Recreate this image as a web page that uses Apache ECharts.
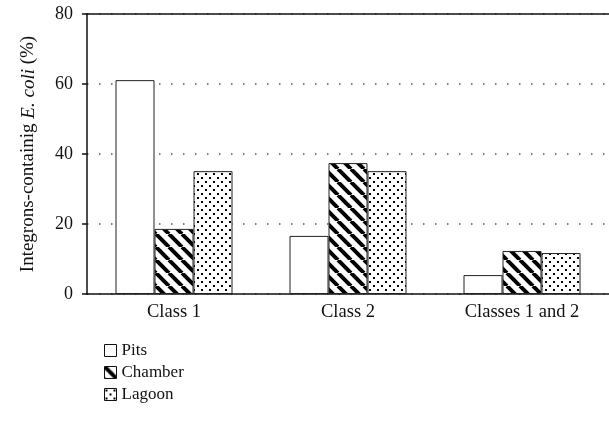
<!DOCTYPE html>
<html>
<head>
<meta charset="utf-8">
<script src="https://cdn.jsdelivr.net/npm/echarts@6/dist/echarts.min.js"></script>
<style>html,body{margin:0;padding:0;background:#fff;}#c{width:609px;height:434px;}</style>
</head>
<body>
<div id="c"></div>
<script>
const categories = ['Class 1', 'Class 2', 'Classes 1 and 2'];
const seriesNames = ['Pits', 'Chamber', 'Lagoon'];
const pits = [61.1, 16.6, 5.4];
const chamber = [18.6, 37.4, 12.3];
const lagoon = [35.1, 35.1, 11.7];
const yTicks = [0, 20, 40, 60, 80];

function stripePattern() {
  const s = 13;
  const c = document.createElement('canvas');
  c.width = s; c.height = s;
  const g = c.getContext('2d');
  g.fillStyle = '#fff'; g.fillRect(0, 0, s, s);
  g.strokeStyle = '#000'; g.lineWidth = 4;
  for (const o of [-s, 0, s]) {
    g.beginPath(); g.moveTo(o, 0); g.lineTo(o + s, s); g.stroke();
  }
  return c;
}
function dotPattern() {
  const s = 8;
  const c = document.createElement('canvas');
  c.width = s; c.height = s;
  const g = c.getContext('2d');
  g.fillStyle = '#fff'; g.fillRect(0, 0, s, s);
  g.fillStyle = '#000';
  g.fillRect(1, 1, 2, 2);
  g.fillRect(5, 5, 2, 2);
  return c;
}

const font = 'Liberation Serif';
const chart = echarts.init(document.getElementById('c'), null, {renderer: 'canvas'});
const barStyle = (color) => ({color: color, borderColor: '#222', borderWidth: 1});
chart.setOption({
  animation: false,
  backgroundColor: '#fff',
  textStyle: {fontFamily: font, color: '#111'},
  grid: {left: 87, right: 0, top: 14, bottom: 140, containLabel: false},
  legend: {
    orient: 'vertical', left: 99, top: 337,
    itemWidth: 12, itemHeight: 12, itemGap: 5,
    icon: 'rect',
    textStyle: {fontFamily: font, fontSize: 17, color: '#111'},
    itemStyle: {borderColor: '#111', borderWidth: 1},
    data: seriesNames
  },
  xAxis: [{
    type: 'category', data: categories,
    axisLine: {lineStyle: {color: '#111', width: 1.5}},
    axisTick: {show: false},
    axisLabel: {fontFamily: font, fontSize: 18.5, color: '#111', margin: 9}
  }, {
    type: 'category', data: categories, position: 'top',
    axisLine: {show: true, lineStyle: {color: '#111', width: 1.5}},
    axisTick: {show: false}, axisLabel: {show: false}
  }],
  yAxis: {
    type: 'value', min: yTicks[0], max: yTicks[yTicks.length - 1], interval: 20,
    axisLine: {show: true, lineStyle: {color: '#111', width: 1.5}},
    axisTick: {show: true, inside: false, length: 5, lineStyle: {color: '#111', width: 1.5}},
    axisLabel: {fontFamily: font, fontSize: 18, color: '#111', margin: 14},
    splitLine: {lineStyle: {color: '#555', type: [1.5, 10.5], width: 1.5}},
    name: '{a|Integrons-containig }{b|E. coli}{a| (%)}',
    nameLocation: 'middle', nameGap: 49,
    nameTextStyle: {
      rich: {
        a: {fontFamily: font, fontSize: 19, color: '#111'},
        b: {fontFamily: font, fontSize: 19, color: '#111', fontStyle: 'italic'}
      }
    }
  },
  series: [
    {name: 'Pits', type: 'bar', data: pits, barWidth: 39, barGap: '0%', itemStyle: barStyle('#fff')},
    {name: 'Chamber', type: 'bar', data: chamber, barWidth: 39, barGap: '0%', itemStyle: barStyle({image: stripePattern(), repeat: 'repeat'})},
    {name: 'Lagoon', type: 'bar', data: lagoon, barWidth: 39, barGap: '0%', itemStyle: barStyle({image: dotPattern(), repeat: 'repeat'})}
  ]
});
</script>
</body>
</html>
